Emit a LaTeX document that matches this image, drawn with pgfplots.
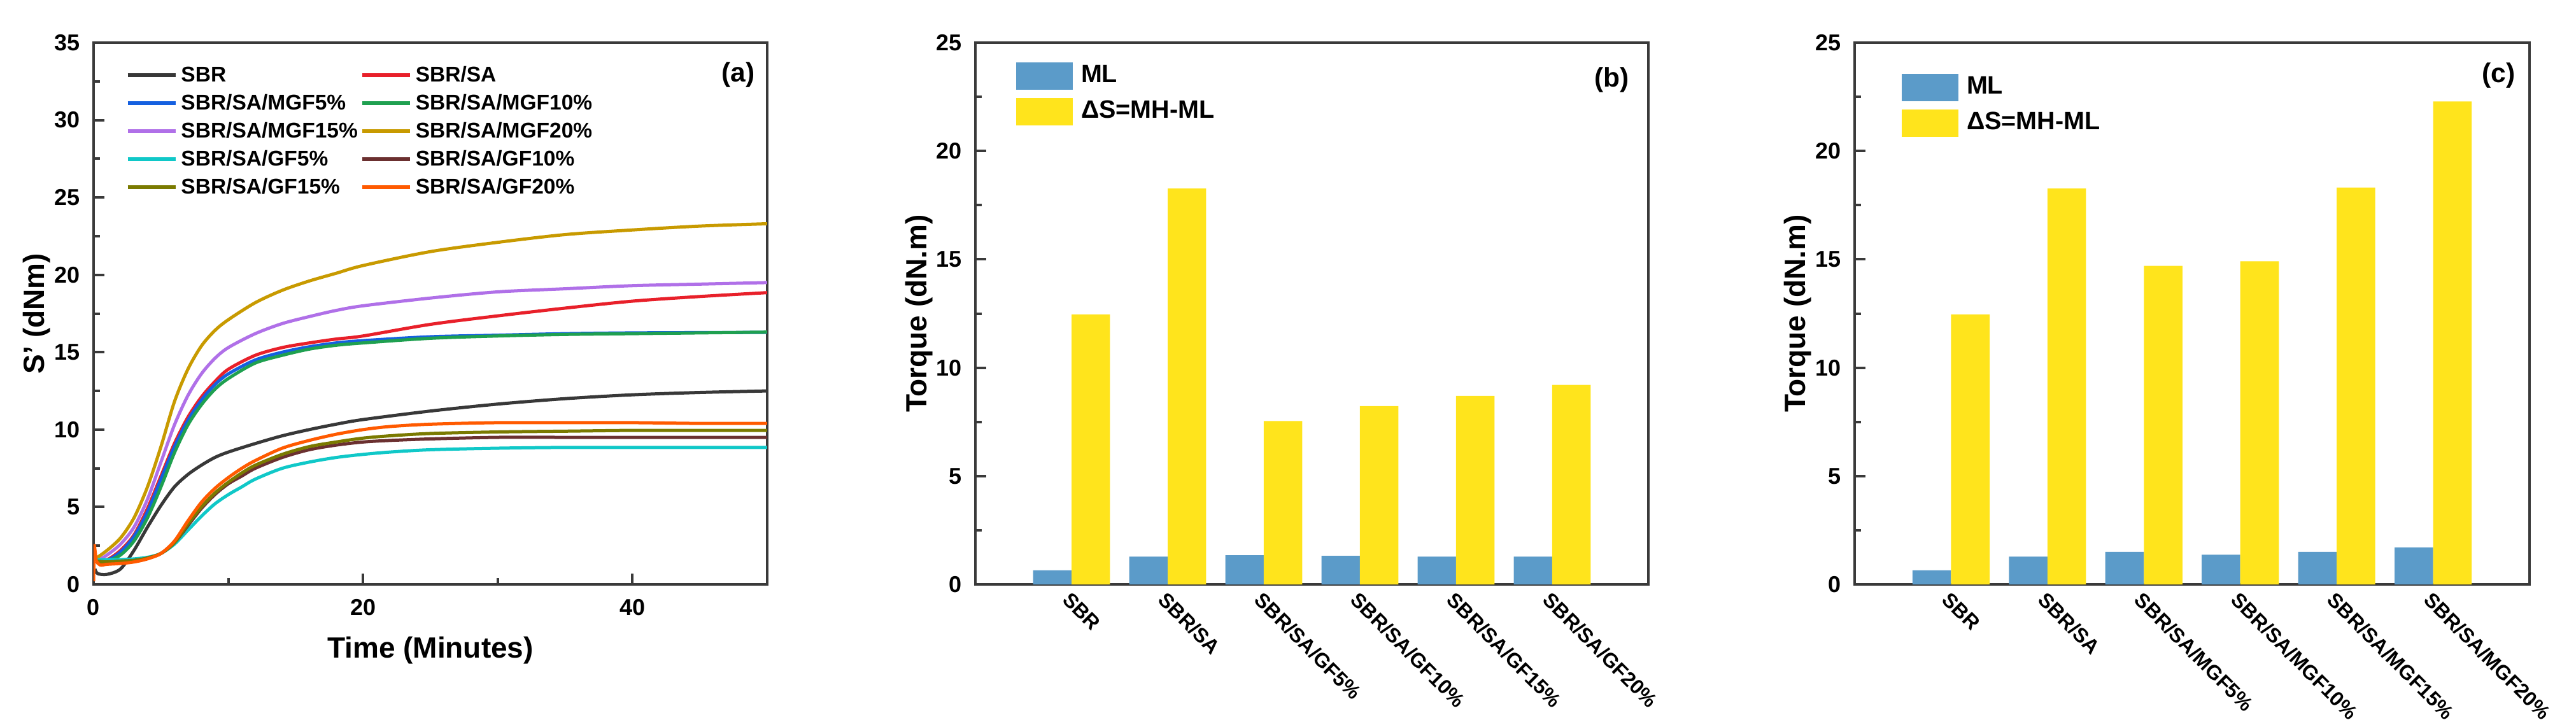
\documentclass[border=0pt]{standalone}
\usepackage{fontspec}
\setmainfont{Liberation Sans}
\usepackage{pgfplots}
\pgfplotsset{compat=1.18}
\definecolor{axisgray}{HTML}{3A3A3A}
\definecolor{cSBR}{HTML}{383838}
\definecolor{cSA}{HTML}{E8202A}
\definecolor{cM5}{HTML}{1560E0}
\definecolor{cM10}{HTML}{1FA050}
\definecolor{cM15}{HTML}{B070E8}
\definecolor{cM20}{HTML}{C89A00}
\definecolor{cG5}{HTML}{10C8C8}
\definecolor{cG10}{HTML}{6B3030}
\definecolor{cG15}{HTML}{7A7A00}
\definecolor{cG20}{HTML}{FF5A00}
\definecolor{mlblue}{HTML}{5B9BC9}
\definecolor{dsyellow}{HTML}{FFE41C}
\pgfplotsset{
  myaxis/.style={
    scale only axis,
    height=170.2pt,
    axis line style={draw=axisgray, line width=0.8pt},
    tick style={draw=axisgray, line width=0.8pt},
    tick align=inside,
    major tick length=3.4pt,
    minor tick length=2pt,
    xtick pos=lower, ytick pos=left,
    /pgf/number format/assume math mode=true,
    xticklabel style={font=\fontsize{7.2}{8}\selectfont\bfseries, inner sep=0pt},
    yticklabel style={font=\fontsize{7.2}{8}\selectfont\bfseries, inner sep=0pt, xshift=-4pt},
    every axis y label/.style={at={(axis description cs:-0.0841,0.5)}, rotate=90, anchor=center, font=\fontsize{9.2}{11}\selectfont\bfseries},
    every axis x label/.style={at={(axis description cs:0.5,-0.1222)}, anchor=center, font=\fontsize{9.2}{11}\selectfont\bfseries},
  },
  baraxis/.style={
    myaxis,
    xmin=0, xmax=7, ymin=0, ymax=25,
    xtick={1,2,3,4,5,6},
    xtick style={draw=none},
    ytick={0,5,10,15,20,25},
    minor ytick={2.5,7.5,12.5,17.5,22.5},
    xticklabel style={font=\fontsize{6.4}{7}\selectfont\bfseries, yshift=-1.8pt, rotate=-45, anchor=north west},
    ylabel={Torque (dN.m)},
    legend cell align=left,
    legend image code/.code={\fill[##1] (0pt,-4.3pt) rectangle (17.8pt,4.3pt);},
  }
}
\begin{document}
\bfseries
\begin{tikzpicture}
\path[use as bounding box] (0,0) rectangle (809.2pt,228.2pt);
% ---------------- panel (a)
\begin{axis}[myaxis,
  at={(29.4pt,44.6pt)}, anchor=south west,
  width=211.6pt,
  xmin=0, xmax=50, ymin=0, ymax=35,
  xtick={0,20,40}, minor xtick={10,30},
  ytick={0,5,10,15,20,25,30,35},
  minor ytick={2.5,7.5,12.5,17.5,22.5,27.5,32.5},
  xticklabel style={yshift=-4.4pt},
  xlabel={Time (Minutes)},
  ylabel={S' (dNm)},
  legend columns=2,
  legend cell align=left,
  legend image code/.code={\draw[#1, line width=1.1pt] (0pt,0pt) -- (15pt,0pt);},
  legend style={draw=none, fill=none, inner sep=0pt,
    at={(axis description cs:0,1)}, xshift=10pt, yshift=-7.1pt, anchor=north west,
    font=\fontsize{6.7}{7}\selectfont\bfseries,
    row sep=3pt, column sep=1.2pt,
    nodes={inner sep=0pt, text height=4.9pt, text depth=0.9pt},
    /tikz/every even column/.append style={column sep=0.9pt}},
  every axis plot/.append style={line width=1pt, smooth, tension=0.5},
]
\addplot[cSBR] coordinates {(0.1,1.0)(0.3,0.7)(1,0.65)(2,1.0)(3,2.2)(4,3.7)(5,5.1)(6,6.3)(7,7.1)(8,7.7)(9,8.2)(10,8.55)(12,9.1)(14,9.6)(16,10.0)(18,10.35)(20,10.65)(25,11.2)(30,11.65)(35,12.0)(40,12.25)(45,12.4)(50,12.5)};
\addlegendentry{SBR}
\addplot[cSA] coordinates {(0.2,1.6)(1,1.6)(2,2.2)(3,3.2)(4,4.9)(5,7.0)(6,9.1)(7,10.8)(8,12.1)(9,13.1)(10,13.9)(12,14.8)(14,15.3)(16,15.6)(18,15.85)(20,16.05)(25,16.8)(30,17.35)(35,17.85)(40,18.3)(45,18.6)(50,18.85)};
\addlegendentry{SBR/SA}
\addplot[cM5] coordinates {(0.2,1.5)(1,1.55)(2,2.1)(3,3.1)(4,4.7)(5,6.8)(6,8.9)(7,10.6)(8,11.9)(9,12.9)(10,13.6)(12,14.5)(14,15.0)(16,15.35)(18,15.6)(20,15.75)(25,16.0)(30,16.1)(35,16.2)(40,16.25)(45,16.27)(50,16.28)};
\addlegendentry{SBR/SA/MGF5\%}
\addplot[cM10] coordinates {(0.2,1.4)(1,1.5)(2,1.9)(3,2.8)(4,4.3)(5,6.3)(6,8.5)(7,10.3)(8,11.6)(9,12.6)(10,13.3)(12,14.3)(14,14.8)(16,15.2)(18,15.45)(20,15.6)(25,15.9)(30,16.05)(35,16.15)(40,16.2)(45,16.25)(50,16.3)};
\addlegendentry{SBR/SA/MGF10\%}
\addplot[cM15] coordinates {(0.2,1.5)(1,1.9)(2,2.6)(3,3.7)(4,5.5)(5,7.9)(6,10.3)(7,12.2)(8,13.6)(9,14.6)(10,15.3)(12,16.2)(14,16.85)(16,17.3)(18,17.7)(20,18.0)(25,18.5)(30,18.9)(35,19.1)(40,19.3)(45,19.4)(50,19.5)};
\addlegendentry{SBR/SA/MGF15\%}
\addplot[cM20] coordinates {(0.2,1.7)(1,2.2)(2,3.0)(3,4.3)(4,6.3)(5,8.9)(6,11.8)(7,13.9)(8,15.4)(9,16.4)(10,17.1)(12,18.2)(14,19.0)(16,19.6)(18,20.1)(20,20.6)(25,21.5)(30,22.1)(35,22.6)(40,22.9)(45,23.15)(50,23.3)};
\addlegendentry{SBR/SA/MGF20\%}
\addplot[cG5] coordinates {(0.2,1.6)(1,1.6)(2,1.6)(3,1.65)(4,1.75)(5,2.0)(6,2.6)(7,3.5)(8,4.4)(9,5.2)(10,5.8)(11,6.3)(12,6.8)(14,7.5)(16,7.9)(18,8.2)(20,8.4)(22,8.55)(25,8.7)(30,8.8)(35,8.85)(40,8.85)(45,8.85)(50,8.85)};
\addlegendentry{SBR/SA/GF5\%}
\addplot[cG10] coordinates {(0.2,1.5)(1,1.45)(2,1.5)(3,1.55)(4,1.7)(5,2.0)(6,2.7)(7,3.8)(8,4.9)(9,5.8)(10,6.5)(11,7.0)(12,7.5)(14,8.2)(16,8.7)(18,9.0)(20,9.2)(22,9.3)(25,9.4)(30,9.5)(35,9.5)(40,9.5)(45,9.5)(50,9.5)};
\addlegendentry{SBR/SA/GF10\%}
\addplot[cG15] coordinates {(0.2,1.5)(1,1.45)(2,1.5)(3,1.55)(4,1.7)(5,2.0)(6,2.7)(7,3.9)(8,5.0)(9,5.9)(10,6.6)(11,7.2)(12,7.7)(14,8.4)(16,8.9)(18,9.2)(20,9.45)(22,9.6)(25,9.75)(30,9.85)(35,9.9)(40,9.95)(45,9.95)(50,9.95)};
\addlegendentry{SBR/SA/GF15\%}
\addplot[cG20] coordinates {(0.2,1.5)(0.5,1.25)(1,1.3)(2,1.35)(3,1.45)(4,1.65)(5,2.0)(6,2.8)(7,4.1)(8,5.3)(9,6.2)(10,6.9)(11,7.5)(12,8.0)(14,8.8)(16,9.3)(18,9.7)(20,10.0)(22,10.2)(25,10.35)(30,10.45)(35,10.45)(40,10.45)(45,10.4)(50,10.4)};
\addlegendentry{SBR/SA/GF20\%}
\addplot[cG20, sharp plot, forget plot] coordinates {(0,0.2)(0.05,2.6)(0.2,1.5)};
\node[font=\fontsize{8.5}{9}\selectfont\bfseries] at (rel axis cs:0.957,0.941) {(a)};
\end{axis}
% ---------------- panel (b)
\begin{axis}[baraxis,
  at={(306.4pt,44.6pt)}, anchor=south west,
  width=211.4pt,
  xticklabels={SBR, SBR/SA, SBR/SA/GF5\%, SBR/SA/GF10\%, SBR/SA/GF15\%, SBR/SA/GF20\%},
  legend style={draw=none, fill=none, inner sep=0pt,
    at={(axis description cs:0,1)}, xshift=12.6pt, yshift=-6pt, anchor=north west,
    font=\fontsize{7.9}{9}\selectfont\bfseries,
    row sep=2.6pt, column sep=2.6pt,
    nodes={inner sep=0pt}},
]
\addplot[ybar, bar width=0.4, bar shift=-0.2, fill=mlblue, draw=none] coordinates {(1,0.65)(2,1.28)(3,1.35)(4,1.32)(5,1.28)(6,1.28)};
\addlegendentry{ML}
\addplot[ybar, bar width=0.4, bar shift=0.2, fill=dsyellow, draw=none] coordinates {(1,12.46)(2,18.27)(3,7.54)(4,8.23)(5,8.70)(6,9.21)};
\addlegendentry{ΔS=MH-ML}
\node[font=\fontsize{8.5}{9}\selectfont\bfseries] at (rel axis cs:0.946,0.931) {(b)};
\end{axis}
% ---------------- panel (c)
\begin{axis}[baraxis,
  at={(582.6pt,44.6pt)}, anchor=south west,
  width=212pt,
  xticklabels={SBR, SBR/SA, SBR/SA/MGF5\%, SBR/SA/MGF10\%, SBR/SA/MGF15\%, SBR/SA/MGF20\%},
  legend style={draw=none, fill=none, inner sep=0pt,
    at={(axis description cs:0,1)}, xshift=14.6pt, yshift=-9.6pt, anchor=north west,
    font=\fontsize{7.9}{9}\selectfont\bfseries,
    row sep=2.6pt, column sep=2.6pt,
    nodes={inner sep=0pt}},
]
\addplot[ybar, bar width=0.4, bar shift=-0.2, fill=mlblue, draw=none] coordinates {(1,0.65)(2,1.28)(3,1.50)(4,1.37)(5,1.50)(6,1.71)};
\addlegendentry{ML}
\addplot[ybar, bar width=0.4, bar shift=0.2, fill=dsyellow, draw=none] coordinates {(1,12.46)(2,18.27)(3,14.70)(4,14.91)(5,18.31)(6,22.29)};
\addlegendentry{ΔS=MH-ML}
\node[font=\fontsize{8.5}{9}\selectfont\bfseries] at (rel axis cs:0.954,0.940) {(c)};
\end{axis}
\end{tikzpicture}
\end{document}
